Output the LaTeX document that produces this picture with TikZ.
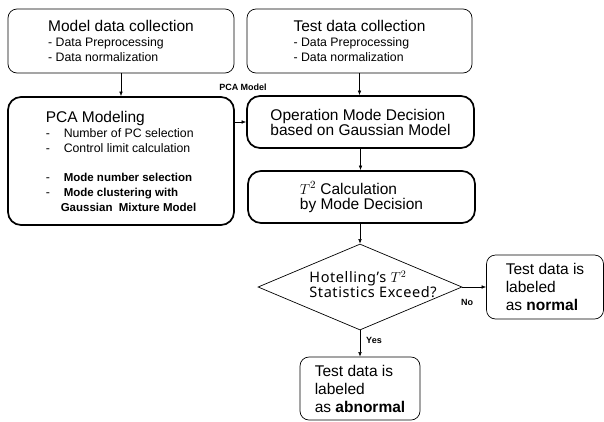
\documentclass[tikz,border=0pt]{standalone}
\usepackage{fontspec}
\setmainfont{Liberation Sans}
\newfontfamily\diafont[LetterSpace=4]{Noto Sans}
\usetikzlibrary{positioning}
\usetikzlibrary{shapes.geometric,arrows.meta}

\newcommand\boxhead{\fontsize{15.5}{18}\selectfont}
\newcommand\boxbold{\bfseries\fontsize{11.5}{15}\selectfont}

\tikzset{
  thinbox/.style={draw, rounded corners=9pt, line width=0.7pt, align=left,
    inner sep=0pt, font=\fontsize{12.3}{15}\selectfont},
  thickbox/.style={thinbox, rounded corners=13pt, line width=1.7pt},
  arr/.style={-{Latex[length=4.5pt,width=3.5pt]}, line width=0.5pt},
  tag/.style={font=\bfseries\fontsize{9}{10}\selectfont, inner sep=0pt},
}

\begin{document}
\begin{tikzpicture}[x=1pt,y=-1pt]
            \useasboundingbox (0,0) rectangle (604,421);
            
            % Data collection
            \node[thinbox, minimum width=226pt, minimum height=64pt] (model) at (121,41)
            {{\boxhead Model data collection}\\ - Data Preprocessing\\ - Data normalization};
            \node[thinbox, minimum width=225pt, minimum height=64pt] (test) at (359.5,41)
            {{\boxhead Test data collection}\\ - Data Preprocessing\\ - Data normalization};
            
            % Modeling and decision
            \node[thickbox, minimum width=226pt, minimum height=128pt] (pca) at (121,161)
            {{\boxhead PCA Modeling}\\
             \makebox[18pt][l]{-}Number of PC selection\\
             \makebox[18pt][l]{-}Control limit calculation\\[14pt]
             \makebox[18pt][l]{-}{\boxbold Mode number selection}\\
             \makebox[18pt][l]{-}{\boxbold Mode clustering with}\\
             \hspace*{15pt}{\boxbold Gaussian\ \ Mixture Model}};
            \node[thickbox, minimum width=227pt, minimum height=52pt] (op) at (360.5,122)
            {\boxhead Operation Mode Decision\\ \boxhead based on Gaussian Model};
            \node[thickbox, minimum width=227pt, minimum height=52pt] (tcalc) at (361.5,197)
            {\boxhead $T^2$ Calculation\\ \boxhead by Mode Decision};
            
            % Test
            \node[draw, diamond, line width=0.7pt, inner sep=0pt,
              minimum width=204pt, minimum height=86pt] (check) at (360,287) {};
            \node[align=left, inner sep=0pt, font=\diafont\fontsize{14.5}{15}\selectfont]
              (checktxt) at (373,284) {Hotelling’s $T^2$\\ Statistics Exceed?};
            
            % Results
            \node[thinbox, font=\boxhead, minimum width=117pt, minimum height=64pt] (normal) at (545,287)
            {Test data is\\ labeled\\ as \textbf{normal}};
            \node[thinbox, font=\boxhead, minimum width=120pt, minimum height=63pt] (abnormal) at (360,388.5)
            {Test data is\\ labeled\\ as \textbf{abnormal}};
            
            % Arrows
            \draw[arr] (model) -- (pca);
            \draw[arr] (test.south) -- (test.south |- op.north);
            \draw[arr] (pca.east |- op.west) -- (op.west);
            \draw[arr] (op.south) -- (op.south |- tcalc.north);
            \draw[arr] (check.north |- tcalc.south) -- (check.north);
            \draw[arr] (check.east) -- (normal.west);
            \draw[arr] (check.south) -- (abnormal.north);
            
            % Arrow labels
            \node[tag] (pcalbl) at (243,87) {PCA Model};
            \node[tag] (nolbl) at (467,302) {No};
            \node[tag] (yeslbl) at (374,340) {Yes};
            
            \end{tikzpicture}
\end{document}
